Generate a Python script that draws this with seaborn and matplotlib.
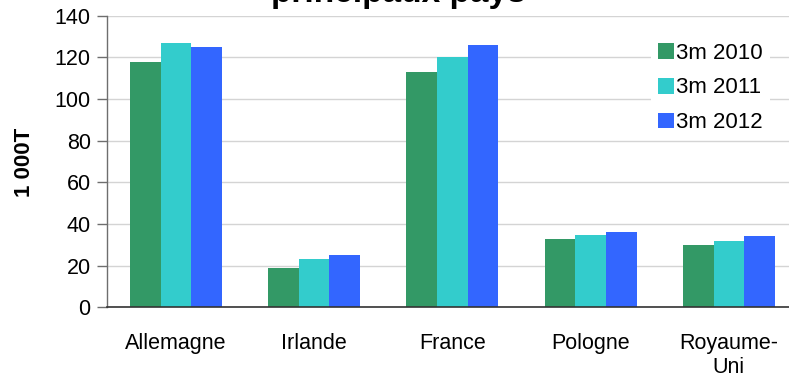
import matplotlib
matplotlib.use("Agg")
import matplotlib.pyplot as plt
import seaborn as sns
import pandas as pd
from matplotlib.patches import Patch

categories = ["Allemagne", "Irlande", "France", "Pologne", "Royaume-Uni"]
tick_labels = ["Allemagne", "Irlande", "France", "Pologne", "Royaume-\nUni"]
series_names = ["3m 2010", "3m 2011", "3m 2012"]
v2010 = [118, 19, 113, 33, 30]
v2011 = [127, 23, 120, 34.5, 32]
v2012 = [125, 25, 126, 36, 34]
colors = ["#339966", "#33CCCC", "#3366FF"]

rows = []
for name, vals in zip(series_names, [v2010, v2011, v2012]):
    for c, v in zip(categories, vals):
        rows.append({"pays": c, "serie": name, "val": v})
df = pd.DataFrame(rows)

sns.set_theme(style="white")
plt.rcParams["font.family"] = ["Liberation Sans", "DejaVu Sans"]
plt.rcParams["text.color"] = "black"
plt.rcParams["xtick.color"] = "black"
plt.rcParams["ytick.color"] = "black"

fig = plt.figure(figsize=(7.89, 3.81), dpi=100)
ax = fig.add_axes([106.7 / 789, 1 - 307.3 / 381, (798 - 106.7) / 789, (307.3 - 15.7) / 381])

sns.barplot(data=df, x="pays", y="val", hue="serie", palette=colors,
            order=categories, hue_order=series_names, width=0.665,
            saturation=1, ax=ax, legend=False, linewidth=0)

ax.set_xlim(-0.5, 4.5)
ax.set_ylim(0, 140)
ax.set_yticks(range(0, 141, 20))
ax.yaxis.grid(True, color="#d4d4d4", linewidth=1)
ax.set_axisbelow(True)
for s in ["top", "right"]:
    ax.spines[s].set_visible(False)
ax.spines["left"].set_color("#6e6e6e")
ax.spines["bottom"].set_color("#333333")
ax.spines["left"].set_linewidth(1)
ax.spines["bottom"].set_linewidth(1.2)

ax.set_xticks(range(len(categories)))
ax.set_xticklabels(tick_labels, fontsize=15.5, linespacing=1.2, color="black")
ax.set_xticks([i - 0.5 for i in range(len(categories) + 1)], minor=True)
ax.tick_params(axis="x", which="major", length=0, pad=18.5, labelcolor="black")
ax.tick_params(axis="x", which="minor", length=7, width=1, color="#333333", direction="out")
ax.tick_params(axis="y", length=7, width=1, color="#6e6e6e", direction="out", pad=4.5,
               labelsize=15.5, left=True, labelcolor="black")
for lab in ax.get_xticklabels():
    lab.set_verticalalignment("top")

ax.set_xlabel("")
ax.set_ylabel("")
fig.text(24 / 789, 1 - 162.5 / 381, "1 000T", rotation=90, ha="center", va="center",
         fontsize=16, fontweight="bold", color="black")

handles = [Patch(facecolor=c, edgecolor="none") for c in colors]
leg = fig.legend(handles, series_names, loc="upper left",
                 bbox_to_anchor=(651 / 789, 1 - 36 / 381), frameon=True,
                 fontsize=16, handlelength=0.72, handleheight=0.72,
                 handletextpad=0.12, labelspacing=0.62, borderpad=0.3,
                 borderaxespad=0)
leg.get_frame().set_facecolor("white")
leg.get_frame().set_edgecolor("none")
leg.get_frame().set_alpha(1)
for t in leg.get_texts():
    t.set_color("black")

fig.text(398.5 / 789, 1 - 2 / 381, "principaux pays", ha="center", va="baseline",
         fontsize=24, fontweight="bold", color="black")

fig.savefig("out.png", dpi=100)
